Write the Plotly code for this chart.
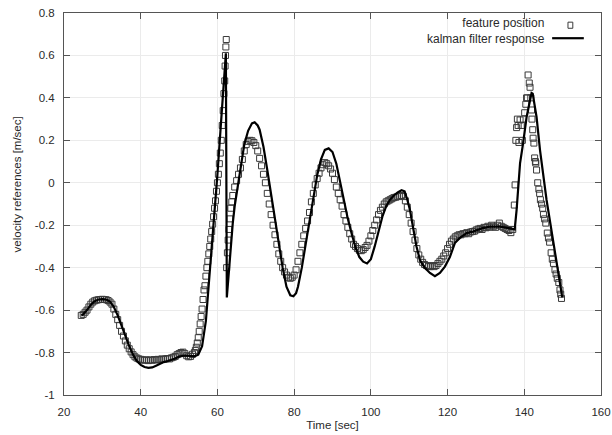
import plotly.graph_objects as go

# ---------------- data ----------------
feature_time = [
    24.5, 25.0, 25.5, 26.0, 26.5, 27.0, 27.5, 28.0, 28.5, 29.0,
    29.5, 30.0, 30.5, 31.0, 31.5, 32.0, 32.5, 33.0, 33.5, 34.0,
    34.5, 35.0, 35.5, 36.0, 36.5, 37.0, 37.5, 38.0, 38.5, 39.0,
    39.5, 40.0, 40.5, 41.0, 41.5, 42.0, 42.5, 43.0, 43.5, 44.0,
    44.5, 45.0, 45.5, 46.0, 46.5, 47.0, 47.5, 48.0, 48.5, 49.0,
    49.5, 50.0, 50.5, 51.0, 51.5, 52.0, 52.5, 53.0, 53.5, 54.0,
    54.25, 54.5, 54.75, 55.0, 55.25, 55.5, 55.75, 56.0, 56.25, 56.5,
    56.75, 57.0, 57.25, 57.5, 57.75, 58.0, 58.25, 58.5, 58.75, 59.0,
    59.25, 59.5, 59.75, 60.0, 60.25, 60.5, 60.75, 61.0, 61.25, 61.5,
    61.7, 61.9, 62.0, 62.1, 62.2, 62.3,
    62.4, 62.6, 62.8, 63.0, 63.25, 63.5, 63.75, 64.0, 64.5, 65.0,
    65.5, 66.0, 66.5, 67.0, 67.5, 68.0, 68.5, 69.0, 69.5, 70.0,
    70.5, 71.0, 71.5, 72.0, 72.5, 73.0, 73.5, 74.0, 74.5, 75.0,
    75.5, 76.0, 76.5, 77.0, 77.5, 78.0, 78.5, 79.0, 79.5, 80.0,
    80.5, 81.0, 81.5, 82.0, 82.5, 83.0, 83.5, 84.0, 84.5, 85.0,
    85.5, 86.0, 86.5, 87.0, 87.5, 88.0, 88.5, 89.0, 89.5, 90.0,
    90.5, 91.0, 91.5, 92.0, 92.5, 93.0, 93.5, 94.0, 94.5, 95.0,
    95.5, 96.0, 96.5, 97.0, 97.5, 98.0, 98.5, 99.0, 99.5, 100.0,
    100.5, 101.0, 101.5, 102.0, 102.5, 103.0, 103.5, 104.0, 104.5, 105.0,
    105.5, 106.0, 106.5, 107.0, 107.5, 108.0, 108.5, 109.0, 109.5, 110.0,
    110.5, 111.0, 111.5, 112.0, 112.5, 113.0, 113.5, 114.0, 114.5, 115.0,
    115.5, 116.0, 116.5, 117.0, 117.5, 118.0, 118.5, 119.0, 119.5, 120.0,
    120.5, 121.0, 121.5, 122.0, 122.5, 123.0, 123.5, 124.0, 124.5, 125.0,
    125.5, 126.0, 126.5, 127.0, 127.5, 128.0, 128.5, 129.0, 129.5, 130.0,
    130.5, 131.0, 131.5, 132.0, 132.5, 133.0, 133.5, 134.0, 134.5, 135.0,
    135.5, 136.0, 136.5, 137.0, 137.4, 137.6, 137.8, 138.0, 138.2, 138.4,
    138.6, 138.9, 139.2, 139.5, 139.8, 140.1, 140.4, 140.6, 140.8, 141.0,
    141.3, 141.5, 141.7, 141.9, 142.0, 142.2, 142.3, 142.5, 142.7, 142.9,
    143.0, 143.2, 143.5, 143.8, 144.0, 144.2, 144.5, 144.8, 145.0, 145.3,
    145.6, 146.0, 146.3, 146.6, 147.0, 147.3, 147.6, 148.0, 148.3, 148.6,
    149.0, 149.3, 149.5, 149.7,
]
feature_value = [
    -0.625, -0.62, -0.61, -0.60, -0.585, -0.572, -0.562, -0.556, -0.553, -0.551,
    -0.55, -0.549, -0.55, -0.551, -0.555, -0.562, -0.572, -0.595, -0.62, -0.645,
    -0.672, -0.70, -0.722, -0.745, -0.765, -0.782, -0.797, -0.81, -0.82, -0.826,
    -0.83, -0.832, -0.835, -0.836, -0.834, -0.838, -0.835, -0.836, -0.833, -0.835,
    -0.832, -0.834, -0.83, -0.832, -0.83, -0.828, -0.83, -0.825, -0.822, -0.818,
    -0.81, -0.805, -0.80, -0.798, -0.805, -0.815, -0.82, -0.818, -0.808, -0.80,
    -0.79, -0.775, -0.755, -0.73, -0.70, -0.665, -0.63, -0.595, -0.55, -0.505,
    -0.485, -0.44, -0.40, -0.37, -0.335, -0.30, -0.265, -0.23, -0.195, -0.16,
    -0.12, -0.085, -0.04, 0.0, 0.04, 0.09, 0.14, 0.20, 0.27, 0.34,
    0.42, 0.48, 0.55, 0.60, 0.64, 0.675,
    -0.40, -0.33, -0.27, -0.22, -0.17, -0.12, -0.09, -0.06, -0.02, 0.01,
    0.04, 0.07, 0.11, 0.15, 0.18, 0.195, 0.20, 0.198, 0.19, 0.175,
    0.15, 0.115, 0.08, 0.04, 0.0, -0.05, -0.10, -0.15, -0.20, -0.245,
    -0.29, -0.335, -0.37, -0.40, -0.42, -0.435, -0.445, -0.45, -0.445, -0.435,
    -0.41, -0.37, -0.33, -0.29, -0.25, -0.215, -0.18, -0.14, -0.09, -0.05,
    -0.01, 0.02, 0.045, 0.07, 0.085, 0.095, 0.09, 0.08, 0.065, 0.045,
    0.015, -0.02, -0.05, -0.08, -0.11, -0.15, -0.18, -0.21, -0.24, -0.265,
    -0.29, -0.30, -0.31, -0.318, -0.32, -0.315, -0.305, -0.295, -0.275, -0.25,
    -0.225, -0.20, -0.175, -0.15, -0.13, -0.115, -0.10, -0.09, -0.085, -0.08,
    -0.075, -0.07, -0.068, -0.065, -0.062, -0.06, -0.065, -0.085, -0.115, -0.15,
    -0.19, -0.23, -0.27, -0.31, -0.34, -0.36, -0.375, -0.385, -0.39, -0.395,
    -0.395, -0.39, -0.395, -0.39, -0.38, -0.37, -0.36, -0.345, -0.33, -0.31,
    -0.29, -0.275, -0.265, -0.255, -0.25, -0.245, -0.245, -0.24, -0.24, -0.235,
    -0.24, -0.232, -0.23, -0.228, -0.222, -0.218, -0.215, -0.22, -0.21, -0.212,
    -0.205, -0.21, -0.20, -0.205, -0.21, -0.20, -0.19, -0.205, -0.21, -0.215,
    -0.22, -0.225, -0.235, -0.22, -0.105, -0.01, 0.20, 0.26, 0.30, 0.27,
    0.19, 0.296, 0.27, 0.20, 0.30, 0.33, 0.37, 0.40, 0.40, 0.508,
    0.47, 0.45, 0.40, 0.343, 0.30, 0.25, 0.21, 0.187, 0.117, 0.10,
    0.093, 0.06, 0.0, -0.03, -0.05, -0.08, -0.10, -0.12, -0.15, -0.17,
    -0.19, -0.237, -0.26, -0.28, -0.33, -0.36, -0.38, -0.41, -0.43, -0.45,
    -0.47, -0.505, -0.525, -0.545,
]

kalman_time = [
    24.5, 25, 26, 27, 28, 29, 30, 31, 32, 33, 34, 35, 36, 37, 38, 39, 40,
    41, 42, 43, 44, 45, 46, 47, 48, 49, 50, 51, 52, 53, 54, 55, 56, 57,
    58, 59, 60, 61, 61.8, 62.2, 62.45, 63, 63.5, 64, 64.5, 65, 66, 67, 68,
    69, 69.7, 70.5, 71, 72, 73, 74, 75, 76, 77, 78, 79, 79.8, 80.5, 81,
    82, 83, 84, 85, 86, 87, 88, 89, 90, 91, 92, 93, 94, 95, 96, 97, 98,
    99, 100, 101, 102, 103, 104, 105, 106, 107, 108, 108.8, 109.5, 110.2,
    111.1, 111.9, 112.8, 114, 115.4, 116.7, 118, 119.3, 120.6, 121.9,
    123.2, 125, 126.6, 128.9, 131, 133.7, 136.3, 137.5, 138, 138.9, 139.7,
    140.6, 141.9, 142.2, 143.2, 144.1, 145.8, 147.6, 149.3, 149.9,
]
kalman_value = [
    -0.625, -0.62, -0.60, -0.575, -0.558, -0.55, -0.548, -0.55, -0.56, -0.585,
    -0.625, -0.675, -0.725, -0.77, -0.81, -0.84, -0.858, -0.868, -0.872, -0.87,
    -0.862, -0.852, -0.845, -0.84, -0.835, -0.828, -0.82, -0.815, -0.815, -0.818,
    -0.818, -0.81, -0.77, -0.65, -0.43, -0.20, 0.04, 0.30, 0.52, 0.61,
    -0.54, -0.40, -0.29, -0.19, -0.11, -0.05, 0.065, 0.18, 0.245, 0.28,
    0.285, 0.27, 0.25, 0.17, 0.06, -0.06, -0.175, -0.295, -0.40, -0.49,
    -0.53, -0.535, -0.52, -0.49, -0.40, -0.29, -0.175, -0.066, 0.035, 0.11,
    0.155, 0.162, 0.145, 0.09, 0.0, -0.09, -0.17, -0.24, -0.305, -0.35,
    -0.372, -0.38, -0.36, -0.30, -0.23, -0.16, -0.11, -0.08, -0.06, -0.045,
    -0.035, -0.04, -0.08, -0.128, -0.22, -0.30, -0.364, -0.40, -0.425, -0.44,
    -0.425, -0.395, -0.35, -0.284, -0.26, -0.237, -0.23, -0.215, -0.207, -0.207,
    -0.215, -0.22, -0.128, 0.093, 0.187, 0.31, 0.423, 0.42, 0.31, 0.154,
    -0.08, -0.28, -0.47, -0.54,
]

x_ticks = [20, 40, 60, 80, 100, 120, 140, 160]
y_ticks = [-1, -0.8, -0.6, -0.4, -0.2, 0, 0.2, 0.4, 0.6, 0.8]
y_tick_text = ["-1", "-0.8", "-0.6", "-0.4", "-0.2", "0", "0.2", "0.4", "0.6", "0.8"]

legend_labels = ["feature position", "kalman filter response"]

# ---------------- figure ----------------
FONT = "Liberation Sans, Arial, Helvetica, sans-serif"
TXT = "#2a2a2a"

fig = go.Figure()
fig.add_trace(go.Scatter(
    x=feature_time, y=feature_value, mode="markers",
    marker=dict(symbol="square-open", size=6, color="#3a3a3a",
                line=dict(width=1, color="#3a3a3a")),
    name=legend_labels[0], showlegend=False, hoverinfo="skip",
))
fig.add_trace(go.Scatter(
    x=kalman_time, y=kalman_value, mode="lines",
    line=dict(color="#000000", width=2.2),
    name=legend_labels[1], showlegend=False, hoverinfo="skip",
))

axis_common = dict(
    showline=True, linecolor="#555555", linewidth=1, mirror="allticks",
    ticks="inside", ticklen=6, tickwidth=1, tickcolor="#555555",
    showgrid=True, gridcolor="#ebebeb", gridwidth=1, zeroline=False,
    tickfont=dict(family=FONT, size=11.5, color=TXT),
)

fig.update_xaxes(
    range=[20, 160], tickvals=x_ticks, ticktext=[str(v) for v in x_ticks],
    ticklabelstandoff=6,
    title=dict(text="Time [sec]", font=dict(family=FONT, size=11.5, color=TXT),
               standoff=4),
    **axis_common,
)
fig.update_yaxes(
    range=[-1, 0.8], tickvals=y_ticks, ticktext=y_tick_text,
    ticklabelstandoff=6,
    **axis_common,
)

# y axis title placed as in the reference
fig.add_annotation(
    text="velocity references [m/sec]", textangle=-90,
    xref="paper", yref="paper", x=-0.087, y=0.552, xanchor="center", yanchor="middle",
    showarrow=False, font=dict(family=FONT, size=11.5, color=TXT),
)

# legend drawn like the gnuplot key (sample to the right of the text)
fig.add_annotation(
    text=legend_labels[0] + "<br>" + legend_labels[1], align="right",
    xref="paper", yref="paper", x=0.9, y=0.953,
    xanchor="right", yanchor="middle", showarrow=False,
    font=dict(family=FONT, size=12, color=TXT),
)
fig.add_shape(type="rect", xref="paper", yref="paper",
              x0=0.9385, x1=0.9475, y0=0.960, y1=0.976,
              line=dict(color="#3a3a3a", width=1), fillcolor="rgba(0,0,0,0)")
fig.add_shape(type="line", xref="paper", yref="paper",
              x0=0.909, x1=0.968, y0=0.934, y1=0.934,
              line=dict(color="#000000", width=2.2))

fig.update_layout(
    width=612, height=435,
    margin=dict(l=64, r=11, t=13, b=40, autoexpand=False),
    paper_bgcolor="white", plot_bgcolor="white",
    font=dict(family=FONT, color=TXT),
)

fig.write_html("out.html",
               config={"displayModeBar": False, "staticPlot": True},
               post_script="document.body.style.margin='0';document.body.style.overflow='hidden';")
